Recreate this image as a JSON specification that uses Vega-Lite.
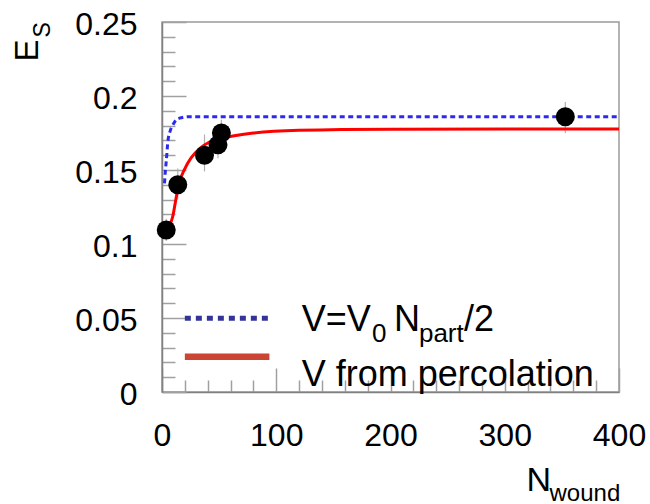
{
  "$schema": "https://vega.github.io/schema/vega-lite/v6.json",
  "autosize": {"type": "none"},
  "padding": {"left": 162, "top": 22, "right": 31, "bottom": 112},
  "width": 457,
  "height": 370,
  "background": "white",
  "config": {
    "font": "Liberation Sans",
    "view": {"stroke": "#9a9a9a", "strokeWidth": 1.5},
    "axis": {
      "grid": false,
      "domainColor": "#808080",
      "domainWidth": 1.5,
      "tickColor": "#a0a0a0",
      "tickWidth": 1.5,
      "labelFont": "Liberation Sans",
      "labelColor": "#000000",
      "labelFontSize": 32,
      "labelFlush": false,
      "labelOverlap": false,
      "titleFont": "Liberation Sans",
      "titleColor": "#000000",
      "titleFontWeight": "normal",
      "titleAlign": "left",
      "titleBaseline": "alphabetic"
    },
    "text": {"font": "Liberation Sans", "color": "#000000", "align": "left", "baseline": "alphabetic"}
  },
  "datasets": {
    "measured": [
      {"N": 3.7, "E": 0.1095, "lo": 0.102, "hi": 0.117},
      {"N": 13.8, "E": 0.140, "lo": 0.130, "hi": 0.151},
      {"N": 37.2, "E": 0.160, "lo": 0.149, "hi": 0.174},
      {"N": 49, "E": 0.167, "lo": 0.158, "hi": 0.176},
      {"N": 52, "E": 0.175, "lo": 0.166, "hi": 0.184},
      {"N": 353, "E": 0.186, "lo": 0.175, "hi": 0.196}
    ],
    "npart": [
      {"N": 2.2, "E": 0.141},
      {"N": 3.0, "E": 0.150},
      {"N": 3.7, "E": 0.1556},
      {"N": 5.1, "E": 0.169},
      {"N": 7.0, "E": 0.176},
      {"N": 9.5, "E": 0.1804},
      {"N": 12.0, "E": 0.1835},
      {"N": 15.3, "E": 0.185},
      {"N": 22.6, "E": 0.186},
      {"N": 60, "E": 0.186},
      {"N": 200, "E": 0.186},
      {"N": 400, "E": 0.186}
    ],
    "percolation": [
      {"N": 2.5, "E": 0.1065},
      {"N": 3.7, "E": 0.1076},
      {"N": 6.5, "E": 0.1120},
      {"N": 9.5, "E": 0.1189},
      {"N": 12.4, "E": 0.1313},
      {"N": 15.3, "E": 0.1419},
      {"N": 19.7, "E": 0.1505},
      {"N": 25.6, "E": 0.1584},
      {"N": 32.9, "E": 0.1644},
      {"N": 41.6, "E": 0.1689},
      {"N": 51.9, "E": 0.1714},
      {"N": 62, "E": 0.1730},
      {"N": 80, "E": 0.1750},
      {"N": 120, "E": 0.1768},
      {"N": 200, "E": 0.1775},
      {"N": 400, "E": 0.1777}
    ],
    "anchor": [{}]
  },
  "resolve": {"axis": {"x": "independent", "y": "independent"}},
  "layer": [
    {
      "data": {"name": "measured"},
      "mark": {"type": "rule", "color": "#b0b0b0", "strokeWidth": 1.2},
      "encoding": {
        "x": {"field": "N", "type": "quantitative", "scale": {"domain": [0, 400], "nice": false}, "axis": null},
        "y": {"field": "lo", "type": "quantitative", "scale": {"domain": [0, 0.25], "nice": false}, "axis": null},
        "y2": {"field": "hi"}
      }
    },
    {
      "data": {"name": "npart"},
      "mark": {"type": "line", "color": "#2a2af2", "strokeWidth": 3, "strokeDash": [5, 3.5], "interpolate": "monotone"},
      "encoding": {
        "x": {"field": "N", "type": "quantitative", "axis": null},
        "y": {"field": "E", "type": "quantitative", "axis": null}
      }
    },
    {
      "data": {"name": "percolation"},
      "mark": {"type": "line", "color": "#ff0000", "strokeWidth": 3, "interpolate": "monotone"},
      "encoding": {
        "x": {
          "field": "N", "type": "quantitative",
          "axis": {
            "orient": "bottom",
            "values": [20, 40, 60, 80, 120, 140, 160, 180, 220, 240, 260, 280, 320, 340, 360, 380],
            "tickSize": -12,
            "labels": false,
            "domain": false,
            "title": "wound",
            "titleFontSize": 24,
            "titleX": 387,
            "titleY": 108
          }
        },
        "y": {
          "field": "E", "type": "quantitative",
          "axis": {
            "orient": "left",
            "values": [0.01, 0.02, 0.03, 0.04, 0.06, 0.07, 0.08, 0.09, 0.11, 0.12, 0.13, 0.14, 0.16, 0.17, 0.18, 0.19, 0.21, 0.22, 0.23, 0.24],
            "tickSize": -13,
            "labels": false,
            "domain": false,
            "title": "S",
            "titleFontSize": 23,
            "titleAngle": 270,
            "titleX": -113,
            "titleY": 15
          }
        }
      }
    },
    {
      "data": {"name": "measured"},
      "mark": {"type": "point", "shape": "circle", "filled": true, "color": "#000000", "opacity": 1, "size": 360},
      "encoding": {
        "x": {
          "field": "N", "type": "quantitative",
          "axis": {
            "orient": "bottom",
            "values": [0, 100, 200, 300, 400],
            "tickSize": -24,
            "labelPadding": 77,
            "labelBaseline": "alphabetic",
            "title": "N",
            "titleFontSize": 34,
            "titleX": 364,
            "titleY": 98
          }
        },
        "y": {
          "field": "E", "type": "quantitative",
          "axis": {
            "orient": "left",
            "values": [0, 0.05, 0.1, 0.15, 0.2, 0.25],
            "tickSize": -24,
            "labelPadding": 49,
            "labelOffset": 2,
            "labelExpr": "datum.value === 0 ? '0' : format(datum.value, '.2~f')",
            "title": "E",
            "titleFontSize": 33,
            "titleAngle": 270,
            "titleX": -125,
            "titleY": 39
          }
        }
      }
    },
    {
      "data": {"name": "anchor"},
      "mark": {"type": "rule", "color": "#333399", "strokeWidth": 5, "strokeDash": [6, 5]},
      "encoding": {
        "x": {"datum": 20, "type": "quantitative", "axis": null},
        "x2": {"datum": 94},
        "y": {"datum": 0.0498, "type": "quantitative", "axis": null}
      }
    },
    {
      "data": {"name": "anchor"},
      "mark": {"type": "rule", "color": "#cc4433", "strokeWidth": 6.5},
      "encoding": {
        "x": {"datum": 20, "type": "quantitative", "axis": null},
        "x2": {"datum": 94},
        "y": {"datum": 0.0239, "type": "quantitative", "axis": null}
      }
    },
    {
      "data": {"name": "anchor"},
      "mark": {"type": "text", "fontSize": 36},
      "encoding": {
        "x": {"datum": 122.3, "type": "quantitative", "axis": null},
        "y": {"datum": 0.0412, "type": "quantitative", "axis": null},
        "text": {"value": "V=V"}
      }
    },
    {
      "data": {"name": "anchor"},
      "mark": {"type": "text", "fontSize": 26},
      "encoding": {
        "x": {"datum": 183.8, "type": "quantitative", "axis": null},
        "y": {"datum": 0.034, "type": "quantitative", "axis": null},
        "text": {"value": "0"}
      }
    },
    {
      "data": {"name": "anchor"},
      "mark": {"type": "text", "fontSize": 36},
      "encoding": {
        "x": {"datum": 203, "type": "quantitative", "axis": null},
        "y": {"datum": 0.0412, "type": "quantitative", "axis": null},
        "text": {"value": "N"}
      }
    },
    {
      "data": {"name": "anchor"},
      "mark": {"type": "text", "fontSize": 26},
      "encoding": {
        "x": {"datum": 224.9, "type": "quantitative", "axis": null},
        "y": {"datum": 0.034, "type": "quantitative", "axis": null},
        "text": {"value": "part"}
      }
    },
    {
      "data": {"name": "anchor"},
      "mark": {"type": "text", "fontSize": 36},
      "encoding": {
        "x": {"datum": 264.3, "type": "quantitative", "axis": null},
        "y": {"datum": 0.0412, "type": "quantitative", "axis": null},
        "text": {"value": "/2"}
      }
    },
    {
      "data": {"name": "anchor"},
      "mark": {"type": "text", "fontSize": 36},
      "encoding": {
        "x": {"datum": 122.3, "type": "quantitative", "axis": null},
        "y": {"datum": 0.0043, "type": "quantitative", "axis": null},
        "text": {"value": "V from percolation"}
      }
    }
  ]
}
